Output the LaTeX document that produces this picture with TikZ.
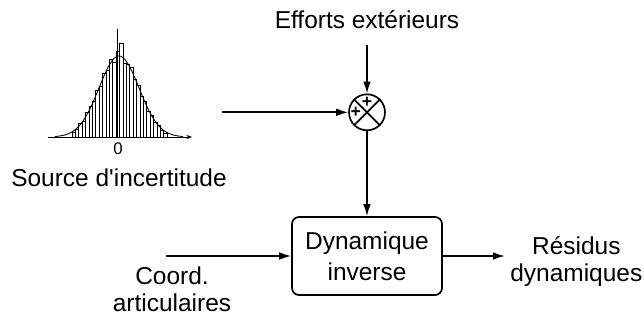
\documentclass[tikz,border=0pt]{standalone}
\usepackage{fontspec}
\setmainfont{Liberation Sans}
\usetikzlibrary{arrows.meta}
\usetikzlibrary{positioning, calc}

\begin{document}
\begin{tikzpicture}[node distance=2cm, >={Latex[length=8.5pt,width=5.5pt]}, line width=1.2pt]
        \tikzstyle{block} = [rectangle, rounded corners=5pt, minimum width=3.75cm, minimum height=1.95cm, align=center, draw=black, font=\fontsize{17.4}{22}\selectfont]
        \tikzstyle{summer} = [circle, minimum size=0.9cm, inner sep=0pt, draw=black]
        \tikzstyle{signal} = [align=center, font=\fontsize{17.4}{19}\selectfont]
        \tikzstyle{sign} = [inner sep=0pt, font=\fontsize{12.5}{12.5}\selectfont\bfseries]
        \tikzstyle{hist} = [line width=0.5pt]

        \useasboundingbox (0,0) rectangle (16.1,-8.025);

        \node[block] (dynInv) at (9.175,-6.4) {Dynamique\\inverse};
        \node[summer, above=2.125cm of dynInv] (sum) {};
        \node[signal, above=1.2cm of sum, inner ysep=0.4cm] (efforts) {Efforts extérieurs};
        \node[sign] (plusTop) at ($(sum)+(0,0.26)$) {+};
        \node[sign] (plusLeft) at ($(sum)+(-0.28,0)$) {+};
        \draw (sum.north west) -- (sum.south east);
        \draw (sum.north east) -- (sum.south west);

        \coordinate[left=3.15cm of sum] (srcOut);
        \coordinate[left=3.125cm of dynInv] (coordIn);
        \node[signal] (coord) at (4.3,-7.24) {Coord.\\articulaires};
        \node[signal, right=1.55cm of dynInv, yshift=-0.14cm] (residus) {Résidus\\dynamiques};

        % histogram of the uncertainty source
        \begin{scope}[shift={(2.925,-3.425)}, x=0.025cm, y=0.025cm]
            \foreach \h [count=\i from 0] in {5,8,14,16,25,31,36,47,51,64,67,78,75,86,94,74,73,70,58,52,41,36,26,22,15,12,7,4}
                \draw[hist] ({-45+3.4*\i},0) rectangle ({-41.6+3.4*\i},\h);
            \draw[line width=0.6pt] plot[domain=-62:66, samples=90, smooth] (\x, {81*exp(-0.5*((\x-2)/20)*((\x-2)/20))});
            \draw[hist, -{Stealth[length=4pt,width=3pt]}] (-69,0) -- (75,0);
            \draw[hist] (0,0) -- (0,108);
            \node[anchor=base, font=\fontsize{12}{12}\selectfont] (zero) at (1,-18) {0};
            \node[signal, anchor=base] (srcLabel) at (2,-50) {Source d\textquotesingle incertitude};
        \end{scope}

        \draw[->] (efforts) -- (sum);
        \draw[->] (srcOut) -- (sum);
        \draw[->] (sum) -- (dynInv);
        \draw[->] (coordIn) -- (dynInv);
        \draw[->] (dynInv.east) -- (dynInv.east -| residus.west);
    \end{tikzpicture}
\end{document}
